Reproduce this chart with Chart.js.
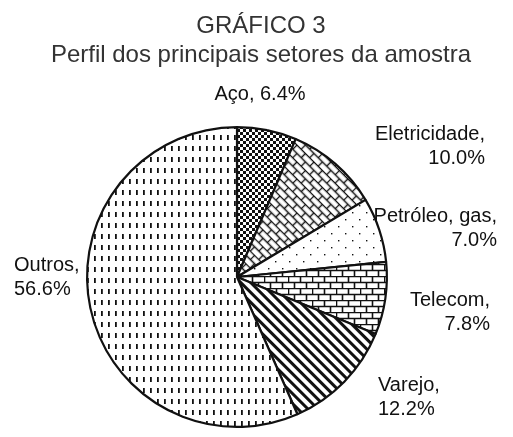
<!DOCTYPE html>
<html>
<head>
<meta charset="utf-8">
<script src="https://cdn.jsdelivr.net/npm/chart.js@4.4.0/dist/chart.umd.min.js"></script>
<style>
  html, body { margin: 0; padding: 0; background: #fff; }
  #wrap { width: 513px; height: 437px; }
</style>
</head>
<body>
<div id="wrap"><canvas id="pie" width="513" height="437"></canvas></div>
<script>
// data
const sectors = ['Aço', 'Eletricidade', 'Petróleo, gas', 'Telecom', 'Varejo', 'Outros'];
const shares = [6.4, 10.0, 7.0, 7.8, 12.2, 56.6];

const titleLines = ['GRÁFICO 3', 'Perfil dos principais setores da amostra'];

// where each label sits (baseline of the first line) and how it is aligned
const labelLayout = [
    { x: 260, y: 100, align: 'center', oneLine: true },
    { x: 485, y: 140, align: 'right' },
    { x: 497, y: 222, align: 'right' },
    { x: 490, y: 306, align: 'right' },
    { x: 378, y: 391, align: 'left' },
    { x: 14,  y: 271, align: 'left' },
];

const FONT = '"Liberation Sans", Arial, Helvetica, sans-serif';

function makeTile(w, h, draw) {
    const c = document.createElement('canvas');
    c.width = w; c.height = h;
    const g = c.getContext('2d');
    g.fillStyle = '#fff';
    g.fillRect(0, 0, w, h);
    g.fillStyle = '#111';
    g.strokeStyle = '#111';
    draw(g);
    return c;
}

function makePattern(tile, angle) {
    const ctx = document.getElementById('pie').getContext('2d');
    const p = ctx.createPattern(tile, 'repeat');
    if (angle) p.setTransform(new DOMMatrix().rotateSelf(angle));
    return p;
}

// checker (Aço)
const checker = makePattern(makeTile(6, 6, g => {
    g.fillRect(0, 0, 3, 3);
    g.fillRect(3, 3, 3, 3);
}));

// brick tile used flat (Telecom) and turned (Eletricidade)
function brickTile(bw, bh, lw) {
    return makeTile(bw * 2, bh * 2, g => {
        g.lineWidth = lw;
        g.beginPath();
        g.moveTo(0, 0.5); g.lineTo(bw * 2, 0.5);
        g.moveTo(0, bh + 0.5); g.lineTo(bw * 2, bh + 0.5);
        g.moveTo(0.5, 0); g.lineTo(0.5, bh);
        g.moveTo(bw + 0.5, 0); g.lineTo(bw + 0.5, bh);
        g.moveTo(bw / 2 + 0.5, bh); g.lineTo(bw / 2 + 0.5, bh * 2);
        g.moveTo(bw * 1.5 + 0.5, bh); g.lineTo(bw * 1.5 + 0.5, bh * 2);
        g.stroke();
    });
}
const bricksFlat = makePattern(brickTile(12, 6, 1.6));
const bricksTurned = makePattern(brickTile(12, 6, 1.4), 45);

// dots (Petróleo)
const dots = makePattern(makeTile(14, 14, g => {
    g.fillRect(2, 2, 1.4, 1.4);
    g.fillRect(9, 9, 1.4, 1.4);
}));

// thick diagonal stripes (Varejo)
const stripes = makePattern(makeTile(7, 7, g => {
    g.fillRect(0, 0, 7, 3);
}), 45);

// vertical dashes (Outros)
const dashes = makePattern(makeTile(7, 11, g => {
    g.fillRect(3, 3, 1.8, 5);
}));

const fills = [checker, bricksTurned, dots, bricksFlat, stripes, dashes];

const textPlugin = {
    id: 'pieText',
    afterDraw(chart) {
        const ctx = chart.ctx;
        ctx.save();
        ctx.textBaseline = 'alphabetic';
        ctx.fillStyle = '#333';
        ctx.textAlign = 'center';
        ctx.font = '24px ' + FONT;
        ctx.fillText(titleLines[0], 261, 33);
        ctx.fillText(titleLines[1], 261, 62);

        ctx.fillStyle = '#111';
        ctx.font = '20px ' + FONT;
        sectors.forEach((name, i) => {
            const pos = labelLayout[i];
            const pct = shares[i].toFixed(1) + '%';
            ctx.textAlign = pos.align;
            if (pos.oneLine) {
                ctx.fillText(name + ', ' + pct, pos.x, pos.y);
            } else {
                ctx.fillText(name + ',', pos.x, pos.y);
                ctx.fillText(pct, pos.x, pos.y + 24);
            }
        });
        ctx.restore();
    }
};

new Chart(document.getElementById('pie'), {
    type: 'pie',
    data: {
        labels: sectors,
        datasets: [{
            data: shares,
            backgroundColor: fills,
            borderColor: '#111',
            borderWidth: 2.2,
        }]
    },
    options: {
        responsive: false,
        animation: false,
        layout: { padding: { left: 86, top: 126, right: 125, bottom: 9 } },
        plugins: {
            legend: { display: false },
            tooltip: { enabled: false },
            title: { display: false },
        }
    },
    plugins: [textPlugin]
});
</script>
</body>
</html>
